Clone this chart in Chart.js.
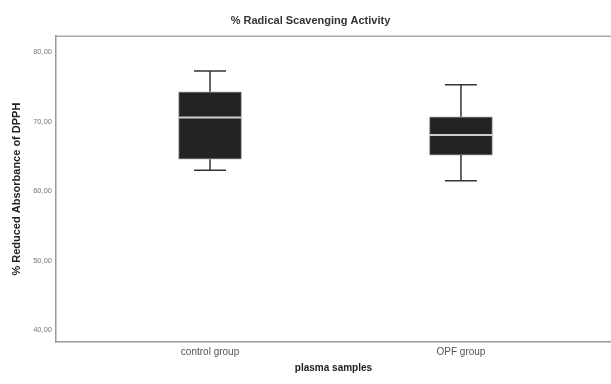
<!DOCTYPE html>
<html>
<head>
<meta charset="utf-8">
<script src="https://cdn.jsdelivr.net/npm/chart.js@4.4.1/dist/chart.umd.min.js"></script>
<style>
  html, body { margin: 0; padding: 0; background: #fff; }
  #wrap { width: 611px; height: 384px; }
</style>
</head>
<body>
<div id="wrap"><canvas id="boxChart"></canvas></div>
<script>
// Box plot values
const groups = ['control group', 'OPF group'];
const whiskerLow = [63.0, 61.5];
const q1 = [64.6, 65.2];
const median = [70.6, 68.1];
const q3 = [74.3, 70.7];
const whiskerHigh = [77.3, 75.3];
const yTicks = [40, 50, 60, 70, 80];

const font = "'Liberation Sans', Arial, sans-serif";

// whiskers, caps and median drawn on top of the floating bars
const boxExtras = {
    id: 'boxExtras',
    afterDatasetsDraw(chart) {
        const { ctx, scales: { x, y }, chartArea } = chart;
        ctx.save();
        groups.forEach((g, i) => {
            const cx = x.getPixelForValue(i + 1);
            const capHalf = 16;
            const boxHalf = 31.5;
            ctx.strokeStyle = '#333';
            ctx.lineWidth = 1.5;
            ctx.beginPath();
            ctx.moveTo(cx, y.getPixelForValue(whiskerHigh[i]));
            ctx.lineTo(cx, y.getPixelForValue(q3[i]));
            ctx.moveTo(cx, y.getPixelForValue(q1[i]));
            ctx.lineTo(cx, y.getPixelForValue(whiskerLow[i]));
            ctx.moveTo(cx - capHalf, y.getPixelForValue(whiskerHigh[i]));
            ctx.lineTo(cx + capHalf, y.getPixelForValue(whiskerHigh[i]));
            ctx.moveTo(cx - capHalf, y.getPixelForValue(whiskerLow[i]));
            ctx.lineTo(cx + capHalf, y.getPixelForValue(whiskerLow[i]));
            ctx.stroke();
            ctx.strokeStyle = '#cfcfcf';
            ctx.lineWidth = 2;
            ctx.beginPath();
            ctx.moveTo(cx - boxHalf, y.getPixelForValue(median[i]));
            ctx.lineTo(cx + boxHalf, y.getPixelForValue(median[i]));
            ctx.stroke();
        });
        // top frame line
        ctx.strokeStyle = '#aaa';
        ctx.lineWidth = 1.5;
        ctx.beginPath();
        ctx.moveTo(chartArea.left, chartArea.top);
        ctx.lineTo(chartArea.right, chartArea.top);
        ctx.stroke();
        ctx.restore();
    }
};

new Chart(document.getElementById('boxChart'), {
    type: 'bar',
    data: {
        datasets: [{
            data: groups.map((g, i) => ({ x: i + 1, y: [q1[i], q3[i]] })),
            backgroundColor: '#232323',
            borderColor: '#9a9a9a',
            borderWidth: 1,
            borderSkipped: false,
            barThickness: 63
        }]
    },
    options: {
        responsive: true,
        maintainAspectRatio: false,
        animation: false,
        layout: { padding: { top: 0, right: 0, left: 10, bottom: 10 } },
        plugins: {
            legend: { display: false },
            tooltip: { enabled: false },
            title: {
                display: true,
                text: '% Radical Scavenging Activity',
                color: '#333',
                font: { family: font, size: 11, weight: 'bold' },
                padding: { top: 14, bottom: 9 }
            }
        },
        scales: {
            x: {
                type: 'linear',
                offset: false,
                min: 0.386,
                max: 2.598,
                afterBuildTicks: axis => { axis.ticks = [{ value: 1 }, { value: 2 }]; },
                grid: { display: false, drawTicks: false, offset: false },
                border: { color: '#999', width: 1.5 },
                ticks: {
                    color: '#555',
                    font: { family: font, size: 10 },
                    padding: 4,
                    callback: v => groups[v - 1]
                },
                title: {
                    display: true,
                    text: 'plasma samples',
                    color: '#222',
                    font: { family: font, size: 10, weight: 'bold' },
                    padding: { top: 0, bottom: 0 }
                }
            },
            y: {
                min: 38.3,
                max: 82.3,
                afterBuildTicks: axis => { axis.ticks = yTicks.map(v => ({ value: v })); },
                grid: { display: false, drawTicks: false },
                border: { color: '#999', width: 1.5 },
                ticks: {
                    color: '#777',
                    font: { family: font, size: 7.5 },
                    padding: 4,
                    callback: v => v.toFixed(2).replace('.', ',')
                },
                title: {
                    display: true,
                    text: '% Reduced Absorbance of DPPH',
                    color: '#222',
                    font: { family: font, size: 11, weight: 'bold' },
                    padding: { top: 0, bottom: 6 }
                }
            }
        }
    },
    plugins: [boxExtras]
});
</script>
</body>
</html>
